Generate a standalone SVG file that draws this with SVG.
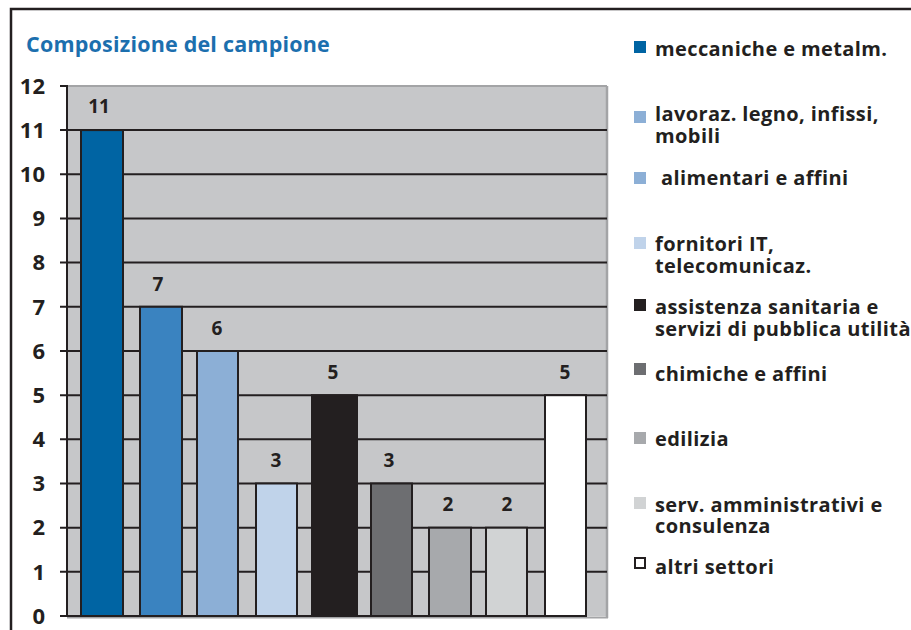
<svg xmlns="http://www.w3.org/2000/svg" width="911" height="630" viewBox="0 0 911 630">
<style>
text{font-family:"Open Sans","Liberation Sans",sans-serif;font-weight:bold;fill:#231f20}
.ax{font-size:22px;text-anchor:end}
.val{font-size:19px;text-anchor:middle}
.lg{font-size:20px;letter-spacing:0.4px}
.title{font-size:21.5px;letter-spacing:0.2px;fill:#1c6fae}
.grid{stroke:#231f20;stroke-width:2}
.bar{stroke:#231f20;stroke-width:2}
</style>
<rect x="0" y="0" width="911" height="630" fill="#ffffff"/>
<g id="frame">
<path d="M11 630 V9 H911" fill="none" stroke="#231f20" stroke-width="2.5"/>
</g>
<text id="title" class="title" x="26" y="52">Composizione del campione</text>
<g id="plot">
<rect x="67" y="86" width="540" height="530" fill="#c6c7c9"/>
<line x1="67" y1="86" x2="607" y2="86" stroke="#a3a4a6" stroke-width="2"/>
<line x1="607" y1="86" x2="607" y2="618" stroke="#a3a4a6" stroke-width="2.5"/>
<line x1="67" y1="617.5" x2="608" y2="617.5" stroke="#a3a4a6" stroke-width="2"/>
</g>
<g id="grid">
<line class="grid" x1="60" y1="86" x2="67" y2="86"/>
<line class="grid" x1="60" y1="130.1" x2="607" y2="130.1"/>
<line class="grid" x1="60" y1="174.3" x2="607" y2="174.3"/>
<line class="grid" x1="60" y1="218.5" x2="607" y2="218.5"/>
<line class="grid" x1="60" y1="262.6" x2="607" y2="262.6"/>
<line class="grid" x1="60" y1="306.8" x2="607" y2="306.8"/>
<line class="grid" x1="60" y1="351" x2="607" y2="351"/>
<line class="grid" x1="60" y1="395.2" x2="607" y2="395.2"/>
<line class="grid" x1="60" y1="439.3" x2="607" y2="439.3"/>
<line class="grid" x1="60" y1="483.5" x2="607" y2="483.5"/>
<line class="grid" x1="60" y1="527.7" x2="607" y2="527.7"/>
<line class="grid" x1="60" y1="571.8" x2="607" y2="571.8"/>
<line class="grid" x1="60" y1="616" x2="586" y2="616"/>
<line class="grid" x1="67" y1="85" x2="67" y2="617"/>
</g>
<g id="yaxis">
<text class="ax" x="45" y="94">12</text>
<text class="ax" x="45" y="138">11</text>
<text class="ax" x="45" y="182">10</text>
<text class="ax" x="45" y="226">9</text>
<text class="ax" x="45" y="270">8</text>
<text class="ax" x="45" y="315">7</text>
<text class="ax" x="45" y="359">6</text>
<text class="ax" x="45" y="403">5</text>
<text class="ax" x="45" y="447">4</text>
<text class="ax" x="45" y="491">3</text>
<text class="ax" x="45" y="535">2</text>
<text class="ax" x="45" y="580">1</text>
<text class="ax" x="45" y="624">0</text>
</g>
<g id="bar-meccaniche">
<rect class="bar" x="81" y="130.1" width="42" height="485.9" fill="#0064a3"/>
<text class="val" x="99" y="113">11</text>
</g>
<g id="bar-legno">
<rect class="bar" x="140" y="306.8" width="42" height="309.2" fill="#3a83c0"/>
<text class="val" x="158" y="291">7</text>
</g>
<g id="bar-alimentari">
<rect class="bar" x="197" y="351" width="41" height="265" fill="#8cafd6"/>
<text class="val" x="217" y="335">6</text>
</g>
<g id="bar-it">
<rect class="bar" x="256" y="483.5" width="41" height="132.5" fill="#c0d3ea"/>
<text class="val" x="276" y="467">3</text>
</g>
<g id="bar-sanitaria">
<rect class="bar" x="312" y="395.2" width="45" height="220.8" fill="#231f20"/>
<text class="val" x="333" y="379">5</text>
</g>
<g id="bar-chimiche">
<rect class="bar" x="371" y="483.5" width="41" height="132.5" fill="#6d6e71"/>
<text class="val" x="389" y="467">3</text>
</g>
<g id="bar-edilizia">
<rect class="bar" x="429" y="527.7" width="42" height="88.3" fill="#a7a9ac"/>
<text class="val" x="448" y="511">2</text>
</g>
<g id="bar-serv">
<rect class="bar" x="486" y="527.7" width="41" height="88.3" fill="#d1d3d4"/>
<text class="val" x="507" y="511">2</text>
</g>
<g id="bar-altri">
<rect class="bar" x="545" y="395.2" width="41" height="220.8" fill="#ffffff"/>
<text class="val" x="565" y="379">5</text>
</g>
<g id="legend">
<rect x="634" y="41" width="12" height="12" fill="#0064a3"/>
<text class="lg" x="655" y="56">meccaniche e metalm.</text>
<rect x="634" y="111" width="12" height="12" fill="#8cafd6"/>
<text class="lg" x="655" y="121">lavoraz. legno, infissi,</text>
<text class="lg" x="655" y="143">mobili</text>
<rect x="634" y="172" width="12" height="12" fill="#8cafd6"/>
<text class="lg" x="661" y="185">alimentari e affini</text>
<rect x="634" y="237" width="12" height="12" fill="#c0d3ea"/>
<text class="lg" x="655" y="251">fornitori IT,</text>
<text class="lg" x="655" y="273">telecomunicaz.</text>
<rect x="634" y="299" width="12" height="12" fill="#231f20"/>
<text class="lg" x="655" y="314">assistenza sanitaria e</text>
<text class="lg" x="655" y="336">servizi di pubblica utilità</text>
<rect x="634" y="363" width="12" height="12" fill="#6d6e71"/>
<text class="lg" x="655" y="381">chimiche e affini</text>
<rect x="634" y="432" width="12" height="12" fill="#a7a9ac"/>
<text class="lg" x="655" y="446">edilizia</text>
<rect x="634" y="497" width="12" height="12" fill="#d1d3d4"/>
<text class="lg" x="655" y="512">serv. amministrativi e</text>
<text class="lg" x="655" y="533">consulenza</text>
<rect x="635" y="558" width="10" height="10" fill="#ffffff" stroke="#231f20" stroke-width="2"/>
<text class="lg" x="655" y="574">altri settori</text>
</g>
</svg>
